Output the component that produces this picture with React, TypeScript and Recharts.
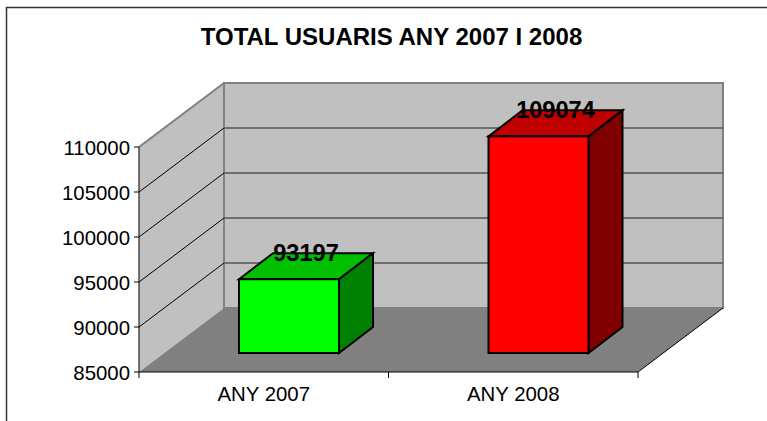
import React from "react";
import { BarChart, Bar, XAxis, YAxis, CartesianGrid } from "recharts";

const years = ["ANY 2007", "ANY 2008"];
const usuaris = [93197, 109074];
const yTicks = [85000, 90000, 95000, 100000, 105000, 110000];

const data = years.map((name, i) => ({ name, usuaris: usuaris[i] }));

const FONT = "'Liberation Sans', Arial, sans-serif";

// front plane of the fake 3D box, everything else is offset from it
const LEFT = 139;
const RIGHT = 638;
const TOP = 147;
const BOTTOM = 372;
const DEPTH_X = 85;
const DEPTH_Y = 64;
// bars stand a bit inside the floor, and have their own smaller depth
const BAR_SHIFT_X = 25;
const BAR_SHIFT_Y = 19;
const BAR_DEPTH_X = 34;
const BAR_DEPTH_Y = 26;

const faces = [
  { front: "#00ff00", top: "#00c000", side: "#008000" },
  { front: "#ff0000", top: "#c00000", side: "#800000" },
];

const Box3D = (props: any) => {
  const { x, y, width, height, value, index } = props;
  const c = faces[index];
  const l = x + BAR_SHIFT_X;
  const r = l + width;
  const t = y - BAR_SHIFT_Y;
  const b = t + height;
  const dx = BAR_DEPTH_X;
  const dy = BAR_DEPTH_Y;
  return (
    <g stroke="#000" strokeWidth={2} strokeLinejoin="miter">
      <path d={`M${l} ${t}L${l + dx} ${t - dy}L${r + dx} ${t - dy}L${r} ${t}Z`} fill={c.top} />
      <path d={`M${r} ${t}L${r + dx} ${t - dy}L${r + dx} ${b - dy}L${r} ${b}Z`} fill={c.side} />
      <rect x={l} y={t} width={width} height={height} fill={c.front} />
      <text
        x={l + (width + dx) / 2}
        y={t - dy + 8}
        textAnchor="middle"
        fontFamily={FONT}
        fontWeight="bold"
        fontSize={23.6}
        fill="#000"
        stroke="none"
      >
        {value}
      </text>
    </g>
  );
};

// walls and floor, drawn once when the grid reaches the bottom level
const Walls = (props: any) => {
  const { y1 } = props;
  if (y1 < BOTTOM) return <g />;
  const bx = LEFT + DEPTH_X;
  const by = BOTTOM - DEPTH_Y;
  const tby = TOP - DEPTH_Y;
  const rx = RIGHT + DEPTH_X;
  return (
    <g>
      <path d={`M${LEFT} ${TOP}L${bx} ${tby}V${by}L${LEFT} ${BOTTOM}Z`} fill="#c0c0c0" />
      <rect x={bx} y={tby} width={rx - bx} height={by - tby} fill="#c0c0c0" stroke="#808080" strokeWidth={2} />
      <path d={`M${LEFT} ${BOTTOM}L${bx} ${by}H${rx}L${RIGHT} ${BOTTOM}Z`} fill="#808080" />
      <line x1={RIGHT} y1={BOTTOM} x2={rx} y2={by} stroke="#000" strokeWidth={1} />
    </g>
  );
};

// one grid level: diagonal on the left wall and horizontal on the back wall
const GridLevel = (props: any) => {
  const { x1, y1 } = props;
  if (y1 >= BOTTOM) return <g />;
  const isTop = y1 <= TOP;
  return (
    <g>
      <line
        x1={x1}
        y1={y1}
        x2={x1 + DEPTH_X}
        y2={y1 - DEPTH_Y}
        stroke={isTop ? "#808080" : "#000"}
        strokeWidth={isTop ? 2 : 1}
      />
      <line
        x1={x1 + DEPTH_X}
        y1={y1 - DEPTH_Y}
        x2={RIGHT + DEPTH_X}
        y2={y1 - DEPTH_Y}
        stroke={isTop ? "#808080" : "#555"}
        strokeWidth={isTop ? 2 : 1.5}
      />
    </g>
  );
};

// category label in the band centre, tick marks on the band edges
const CategoryTick = (props: any) => {
  const { x, y, payload } = props;
  const half = (RIGHT - LEFT) / years.length / 2;
  return (
    <g>
      <line x1={x - half} y1={BOTTOM} x2={x - half} y2={BOTTOM + 6} stroke="#000" />
      <line x1={x + half} y1={BOTTOM} x2={x + half} y2={BOTTOM + 6} stroke="#000" />
      <text x={x} y={y + 21} textAnchor="middle" fontFamily={FONT} fontSize={20.4} fill="#000">
        {payload.value}
      </text>
    </g>
  );
};

const ValueTick = (props: any) => {
  const { x, y, payload } = props;
  return (
    <text x={x} y={y + 8} textAnchor="end" fontFamily={FONT} fontSize={20.4} fill="#000">
      {payload.value}
    </text>
  );
};

export default function App() {
  return (
    <div style={{ position: "absolute", left: 0, top: 0 }}>
      <BarChart
        width={767}
        height={421}
        data={data}
        margin={{ top: TOP, left: LEFT - 80, right: 767 - RIGHT, bottom: 421 - BOTTOM - 30 }}
        barSize={100}
      >
        <path d="M6.5 421V7.5H767" fill="none" stroke="#333" strokeWidth={1.5} />
        <text
          x={391.5}
          y={45}
          textAnchor="middle"
          fontFamily={FONT}
          fontWeight="bold"
          fontSize={24}
          fill="#000"
        >
          TOTAL USUARIS ANY 2007 I 2008
        </text>
        <CartesianGrid vertical={false} horizontal={(p: any) => <Walls {...p} />} />
        <CartesianGrid vertical={false} horizontal={(p: any) => <GridLevel {...p} />} />
        <XAxis
          dataKey="name"
          height={30}
          axisLine={{ stroke: "#000", strokeWidth: 1 }}
          tickLine={false}
          tick={(p: any) => <CategoryTick {...p} />}
        />
        <YAxis
          width={80}
          type="number"
          domain={[85000, 110000]}
          ticks={yTicks}
          interval={0}
          axisLine={{ stroke: "#000", strokeWidth: 1 }}
          tickLine={{ stroke: "#000" }}
          tickSize={5}
          tickMargin={4}
          tick={(p: any) => <ValueTick {...p} />}
        />
        <Bar dataKey="usuaris" isAnimationActive={false} shape={(p: any) => <Box3D {...p} />} />
      </BarChart>
    </div>
  );
}
